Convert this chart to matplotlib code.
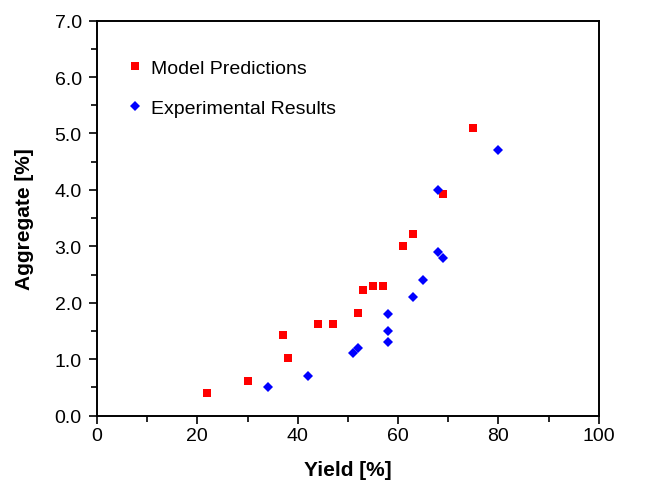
import matplotlib
matplotlib.use('Agg')
import matplotlib.pyplot as plt
from matplotlib.ticker import MultipleLocator

plt.rcParams['font.family'] = ['Liberation Sans', 'DejaVu Sans']

# model predictions (red squares)
model_yield = [22, 30, 37, 38, 44, 47, 52, 53, 55, 57, 61, 63, 69, 75]
model_agg = [0.4, 0.62, 1.42, 1.02, 1.62, 1.62, 1.81, 2.22, 2.3, 2.3, 3.0, 3.22, 3.92, 5.1]

# experimental results (blue diamonds)
exp_yield = [34, 42, 51, 52, 58, 58, 58, 63, 65, 68, 69, 68, 80]
exp_agg = [0.5, 0.7, 1.11, 1.2, 1.8, 1.5, 1.31, 2.1, 2.4, 2.9, 2.8, 4.0, 4.7]

fig = plt.figure(figsize=(6.69, 4.81), dpi=100)
ax = fig.add_axes([0.145, 0.134, 0.75, 0.821])

ax.plot(model_yield, model_agg, 's', color='#ff0000', markersize=6,
        markeredgewidth=0, label='Model Predictions')
ax.plot(exp_yield, exp_agg, 'D', color='#0000ff', markersize=5.5,
        markeredgewidth=0, label='Experimental Results')

ax.set_xlim(0, 100)
ax.set_ylim(0, 7)
ax.xaxis.set_major_locator(MultipleLocator(20))
ax.xaxis.set_minor_locator(MultipleLocator(10))
ax.yaxis.set_major_locator(MultipleLocator(1))
ax.yaxis.set_minor_locator(MultipleLocator(0.5))
ax.yaxis.set_major_formatter(plt.FormatStrFormatter('%.1f'))
ax.tick_params(which='major', direction='out', length=6, width=1.2, labelsize=14)
ax.tick_params(which='minor', direction='out', length=4, width=1.2)
ax.tick_params(axis='x', which='major', pad=2)
ax.tick_params(axis='y', which='major', pad=5)
for s in ax.spines.values():
    s.set_linewidth(1.4)

ax.set_xlabel('Yield [%]', fontsize=15, fontweight='bold', labelpad=12)
ax.set_ylabel('Aggregate [%]', fontsize=15, fontweight='bold', labelpad=15)

ax.legend(loc='upper left', bbox_to_anchor=(0.045, 0.922), frameon=False,
          fontsize=14, handlelength=0.8, handletextpad=0.4, labelspacing=1.15,
          borderaxespad=0)

plt.savefig('out.png', dpi=100)
